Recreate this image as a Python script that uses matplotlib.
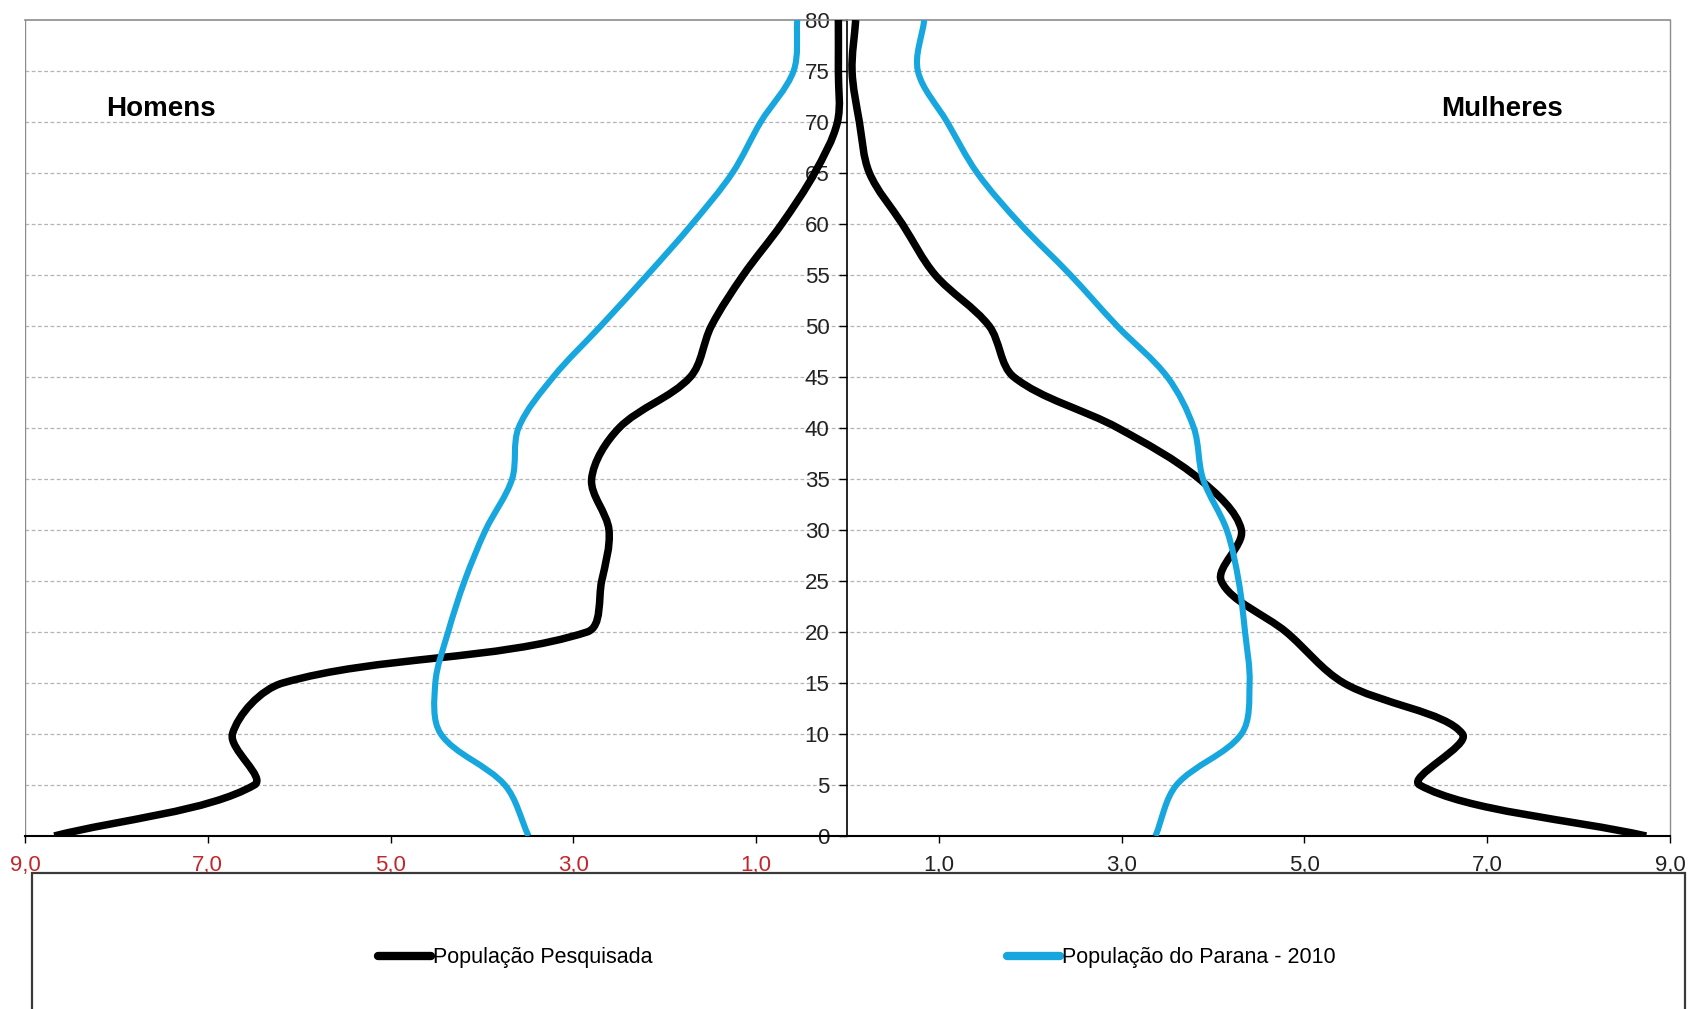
import numpy as np
import matplotlib
matplotlib.use("Agg")
import matplotlib.pyplot as plt
from matplotlib.path import Path
from matplotlib.patches import PathPatch, Rectangle
from matplotlib.lines import Line2D

# faixas etárias (anos)
ages = [0, 5, 10, 15, 20, 25, 30, 35, 40, 45, 50, 55, 60, 65, 70, 75, 80]

# % da população por faixa
pesq_homens = [8.68, 6.49, 6.73, 6.18, 2.85, 2.69, 2.61, 2.80, 2.50, 1.72,
               1.49, 1.14, 0.72, 0.36, 0.11, 0.10, 0.10]
pesq_mulheres = [8.74, 6.26, 6.73, 5.43, 4.80, 4.09, 4.31, 3.85, 2.96, 1.82,
                 1.55, 0.96, 0.60, 0.24, 0.13, 0.05, 0.09]
parana_homens = [3.49, 3.75, 4.45, 4.51, 4.37, 4.19, 3.96, 3.67, 3.60, 3.22,
                 2.70, 2.19, 1.70, 1.26, 0.95, 0.59, 0.55]
parana_mulheres = [3.37, 3.60, 4.31, 4.40, 4.35, 4.28, 4.15, 3.89, 3.79, 3.50,
                   2.95, 2.44, 1.89, 1.42, 1.09, 0.77, 0.84]

x_ticks = [-9, -7, -5, -3, -1, 1, 3, 5, 7, 9]
y_ticks = list(range(0, 85, 5))
serie_labels = ["População Pesquisada", "População do Parana - 2010"]

BLACK = "#000000"
BLUE = "#17a7de"
RED = "#c0282d"

plt.rcParams["font.family"] = ["Liberation Sans", "DejaVu Sans"]

# pixels por unidade no gráfico (para a suavização ficar como no Excel)
SX, SY = 91.4, 10.2


def smooth_path(xs, ys):
    # linha suavizada: Bezier cúbica com tangentes ponderadas pelo comprimento
    pts = np.column_stack([np.asarray(xs, float) * SX, np.asarray(ys, float) * SY])
    n = len(pts)
    d = np.hypot(*np.diff(pts, axis=0).T)
    tang = np.zeros_like(pts)
    for i in range(n):
        a = pts[max(i - 1, 0)]
        b = pts[min(i + 1, n - 1)]
        da = d[i - 1] if i > 0 else 0.0
        db = d[i] if i < n - 1 else 0.0
        tang[i] = (b - a) / (da + db)
    verts = [pts[0]]
    codes = [Path.MOVETO]
    for i in range(n - 1):
        c1 = pts[i] + tang[i] * d[i] / 3.0
        c2 = pts[i + 1] - tang[i + 1] * d[i] / 3.0
        verts += [c1, c2, pts[i + 1]]
        codes += [Path.CURVE4] * 3
    verts = np.array(verts) / [SX, SY]
    return Path(verts, codes)


fig = plt.figure(figsize=(16.9, 10.09), dpi=100)
ax = fig.add_axes([25 / 1690, 1 - 836 / 1009, 1645 / 1690, 816 / 1009])

ax.set_xlim(-9, 9)
ax.set_ylim(0, 80)

for y in y_ticks[1:-1]:
    ax.axhline(y, color="#b4b4b4", lw=0.9, ls=(0, (3, 2)), zorder=1)

series = [
    (np.negative(pesq_homens), BLACK, 5.4),
    (pesq_mulheres, BLACK, 5.4),
    (np.negative(parana_homens), BLUE, 4.4),
    (parana_mulheres, BLUE, 4.4),
]
for xs, col, lw in series:
    patch = PathPatch(smooth_path(xs, ages), fill=False, edgecolor=col,
                      lw=lw, capstyle="butt", joinstyle="round", zorder=3)
    ax.add_patch(patch)

# eixo vertical central com as idades
ax.spines["left"].set_position(("data", 0))
ax.spines["left"].set_color("#000000")
ax.spines["left"].set_linewidth(1.2)
ax.spines["top"].set_color("#8c8c8c")
ax.spines["top"].set_linewidth(1.2)
ax.spines["right"].set_color("#8c8c8c")
ax.spines["right"].set_linewidth(1.0)
ax.spines["bottom"].set_color("#000000")
ax.spines["bottom"].set_linewidth(1.5)
ax.axvline(-9, color="#8c8c8c", lw=1.0, zorder=2)

ax.set_yticks(y_ticks)
ax.set_yticklabels([str(v) for v in y_ticks])
ax.tick_params(axis="y", direction="out", length=6, width=1.0, pad=7,
               labelsize=16, colors="#000000", labelcolor="#222222")

ax.set_xticks(x_ticks)
ax.set_xticklabels([f"{abs(v)},0" for v in x_ticks])
ax.tick_params(axis="x", direction="out", length=5, width=1.0, pad=9,
               labelsize=16)
for v, lab in zip(x_ticks, ax.get_xticklabels()):
    lab.set_color(RED if v < 0 else "#222222")

ax.text(-8.11, 71.3, "Homens", fontsize=20, fontweight="bold",
        ha="left", va="center")
ax.text(7.83, 71.3, "Mulheres", fontsize=20, fontweight="bold",
        ha="right", va="center")

# caixa da legenda
box = Rectangle((32 / 1690, -0.1), (1685 - 32) / 1690, 1 - 873 / 1009 + 0.1,
                transform=fig.transFigure, fill=False, edgecolor="#3a3a3a",
                lw=1.6, zorder=5)
fig.patches.append(box)

handles = [Line2D([0], [0], color=BLACK, lw=6, solid_capstyle="round"),
           Line2D([0], [0], color=BLUE, lw=6, solid_capstyle="round")]
fig.legend(handles, serie_labels, loc="center",
           bbox_to_anchor=(857 / 1690, 1 - 958 / 1009), ncol=2,
           frameon=False, fontsize=15.5, handlelength=2.45, handletextpad=0.1,
           columnspacing=16.45)

fig.savefig("out.png", dpi=100)
